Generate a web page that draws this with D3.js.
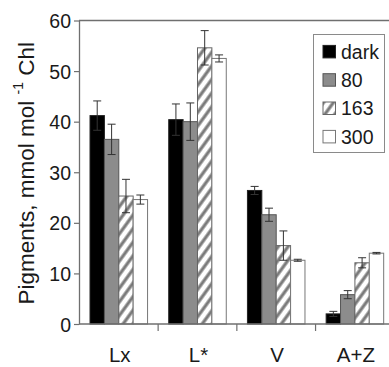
<!DOCTYPE html>
<html>
<head>
<meta charset="utf-8">
<script src="https://cdn.jsdelivr.net/npm/d3@7/dist/d3.min.js"></script>
<style>
  html, body { margin: 0; padding: 0; background: #fff; }
  svg { display: block; font-family: "Liberation Sans", Arial, sans-serif; }
</style>
</head>
<body>
<svg id="chart" width="389" height="367"></svg>
<script>
const categories = ["Lx", "L*", "V", "A+Z"];
const seriesNames = ["dark", "80", "163", "300"];
const darkValues = [41.2, 40.4, 26.4, 2.0];
const darkErrors = [2.9, 3.1, 0.8, 0.5];
const s80Values = [36.5, 40.0, 21.6, 5.8];
const s80Errors = [3.0, 3.7, 1.3, 0.8];
const s163Values = [25.3, 54.6, 15.5, 12.1];
const s163Errors = [3.3, 3.4, 2.9, 1.0];
const s300Values = [24.6, 52.5, 12.6, 14.0];
const s300Errors = [0.9, 0.7, 0.2, 0.15];
const yTicks = [0, 10, 20, 30, 40, 50, 60];

const valuesBySeries = [darkValues, s80Values, s163Values, s300Values];
const errorsBySeries = [darkErrors, s80Errors, s163Errors, s300Errors];

const svg = d3.select("#chart");
const defs = svg.append("defs");
const pat = defs.append("pattern")
  .attr("id", "hatch")
  .attr("patternUnits", "userSpaceOnUse")
  .attr("width", 8).attr("height", 8)
  .attr("patternTransform", "rotate(36)");
pat.append("rect").attr("width", 8).attr("height", 8).attr("fill", "#fff");
pat.append("line").attr("x1", 2).attr("y1", 0).attr("x2", 2).attr("y2", 8)
  .attr("stroke", "#7a7a7a").attr("stroke-width", 3.2);

const fills = ["#000000", "#8c8c8c", "url(#hatch)", "#ffffff"];
const strokes = ["#222", "#555", "#666", "#777"];

const left = 79, plotRight = 394.7;
const y = d3.scaleLinear().domain([0, 60]).range([324, 20.5]);
const x = d3.scaleBand().domain(categories).range([left, plotRight])
  .paddingInner(0.269).paddingOuter(0.14);
const xs = d3.scaleBand().domain(seriesNames).range([0, x.bandwidth()]).padding(0);

const axisColor = "#6f6f6f";

// top frame line
svg.append("line").attr("x1", left).attr("x2", 392).attr("y1", y(60)).attr("y2", y(60))
  .attr("stroke", axisColor).attr("stroke-width", 1.3);

// bars
const rows = [];
categories.forEach((c, ci) => {
  seriesNames.forEach((s, si) => {
    rows.push({ c, s, si, v: valuesBySeries[si][ci], e: errorsBySeries[si][ci] });
  });
});

svg.append("g").selectAll("rect").data(rows).join("rect")
  .attr("x", d => x(d.c) + xs(d.s))
  .attr("y", d => y(d.v))
  .attr("width", xs.bandwidth())
  .attr("height", d => y(0) - y(d.v))
  .attr("fill", d => fills[d.si])
  .attr("stroke", d => strokes[d.si])
  .attr("stroke-width", 1);

// error bars
const eg = svg.append("g").attr("stroke", "#333").attr("stroke-width", 1).attr("fill", "none");
rows.forEach(d => {
  const cx = x(d.c) + xs(d.s) + xs.bandwidth() / 2;
  const y1 = y(d.v + d.e), y2 = y(d.v - d.e);
  eg.append("line").attr("x1", cx).attr("x2", cx).attr("y1", y1).attr("y2", y2);
  eg.append("line").attr("x1", cx - 4).attr("x2", cx + 4).attr("y1", y1).attr("y2", y1);
  eg.append("line").attr("x1", cx - 4).attr("x2", cx + 4).attr("y1", y2).attr("y2", y2);
});

// y axis
const yAxis = d3.axisLeft(y).tickValues(yTicks).tickSize(5).tickPadding(3).tickSizeOuter(0);
const yg = svg.append("g").attr("transform", `translate(${left},0)`).call(yAxis);
yg.select(".domain").attr("stroke", axisColor).attr("stroke-width", 1.3);
yg.selectAll(".tick line").attr("stroke", axisColor).attr("stroke-width", 1.2);
yg.selectAll(".tick text").attr("fill", "#1a1a1a").attr("font-size", 19.5)
  .attr("font-family", "Liberation Sans, Arial, sans-serif").attr("dy", "0.36em");

// x axis line + ticks between categories
svg.append("line").attr("x1", left).attr("x2", 392).attr("y1", y(0)).attr("y2", y(0))
  .attr("stroke", axisColor).attr("stroke-width", 1.3);
const step = x.step();
const boundaries = categories.slice(1).map(c => x(c) - step * x.paddingInner() / 2);
svg.append("g").selectAll("line").data(boundaries).join("line")
  .attr("x1", d => d).attr("x2", d => d)
  .attr("y1", y(0)).attr("y2", y(0) + 7)
  .attr("stroke", axisColor).attr("stroke-width", 1.2);

// category labels
svg.append("g").selectAll("text").data(categories).join("text")
  .attr("x", d => x(d) + x.bandwidth() / 2 + 1)
  .attr("y", 362.3)
  .attr("text-anchor", "middle")
  .attr("font-size", 20.5)
  .attr("fill", "#1a1a1a")
  .text(d => d);

// y label
const yl = svg.append("text")
  .attr("transform", `translate(33.5,${y(30) + 1}) rotate(-90)`)
  .attr("text-anchor", "middle")
  .attr("font-size", 22.5)
  .attr("fill", "#1a1a1a");
yl.append("tspan").text("Pigments, mmol mol ");
yl.append("tspan").attr("font-size", 14).attr("dy", "-0.75em").text("-1");
yl.append("tspan").attr("dy", "0.47em").text(" Chl");

// legend
const lg = svg.append("g");
lg.append("rect").attr("x", 313.5).attr("y", 34.5).attr("width", 71).attr("height", 118)
  .attr("fill", "#fff").attr("stroke", "#8a8a8a").attr("stroke-width", 1);
const rowY = [51.7, 80, 108.3, 136.7];
seriesNames.forEach((s, i) => {
  lg.append("rect").attr("x", 323).attr("y", rowY[i] - 6.3).attr("width", 12.5).attr("height", 12.5)
    .attr("fill", fills[i]).attr("stroke", strokes[i]).attr("stroke-width", 1);
  lg.append("text").attr("x", 341).attr("y", rowY[i]).attr("dy", "0.36em")
    .attr("font-size", 19.5).attr("fill", "#1a1a1a").text(s);
});
</script>
</body>
</html>
